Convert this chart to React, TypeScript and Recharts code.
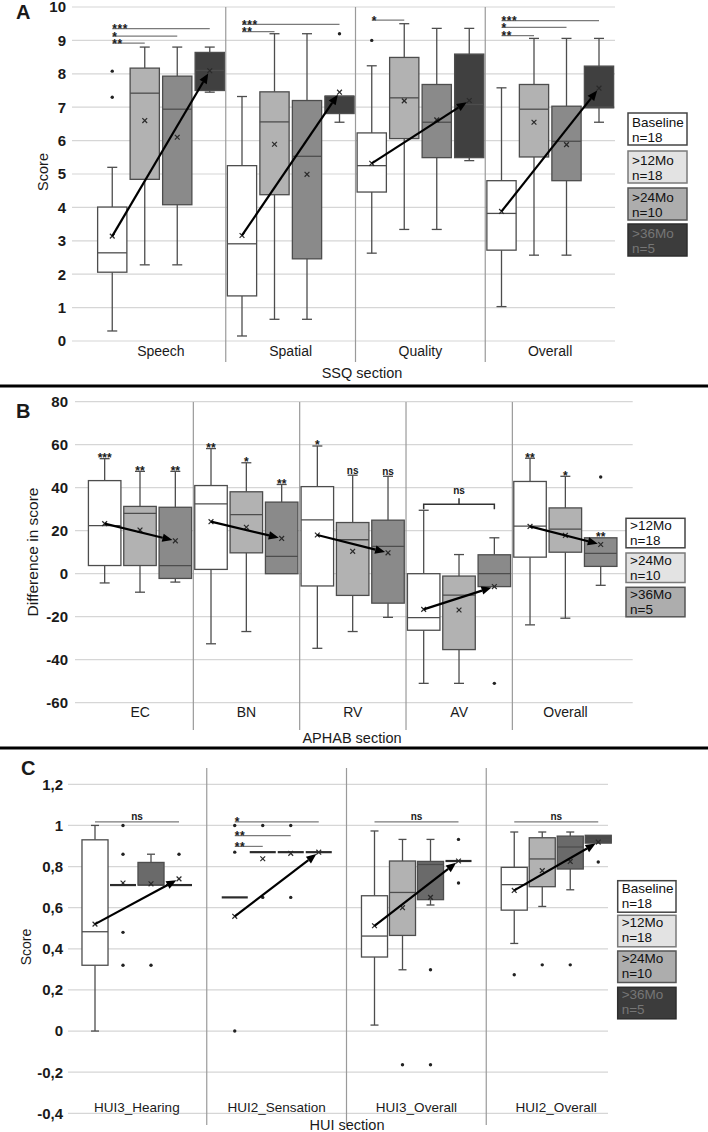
import React from "react";
import { ComposedChart, Bar, XAxis, YAxis, CartesianGrid } from "recharts";

const FONT = "'Liberation Sans', Arial, Helvetica, sans-serif";

// ---------- panel A: SSQ ----------
const SSQ_GROUPS = ["Speech", "Spatial", "Quality", "Overall"];
const SSQ_MIN = [[0.3, 2.28, 2.28, 7.45], [0.15, 0.65, 0.65, 6.55], [2.63, 3.34, 3.34, 5.4], [1.03, 2.57, 2.57, 6.55]];
const SSQ_Q1 = [[2.06, 4.84, 4.08, 7.5], [1.35, 4.38, 2.46, 6.81], [4.46, 6.06, 5.49, 5.49], [2.72, 5.51, 4.8, 6.98]];
const SSQ_MED = [[2.64, 7.42, 6.94, 8.1], [2.91, 6.56, 5.53, 7.33], [5.25, 7.28, 6.55, 7.08], [3.82, 6.94, 5.98, 7.01]];
const SSQ_Q3 = [[4.01, 8.17, 7.93, 8.64], [5.25, 7.46, 7.2, 7.33], [6.23, 8.49, 7.68, 8.59], [4.8, 7.68, 7.03, 8.23]];
const SSQ_MAX = [[5.2, 8.8, 8.8, 8.8], [7.32, 9.2, 9.2, 7.33], [8.24, 9.5, 9.36, 9.36], [7.58, 9.06, 9.06, 9.06]];
const SSQ_MEAN = [[3.14, 6.6, 6.1, 8.09], [3.16, 5.89, 4.99, 7.45], [5.32, 7.19, 6.62, 7.2], [3.88, 6.55, 5.88, 7.57]];
const SSQ_OUT = [[[8.08, 7.3], [], [], []], [[], [], [], [9.2]], [[9.0], [], [], []], [[], [], [], []]];
const SSQ_SIG = [
  [{ to: 3, y: 9.35, label: "***" }, { to: 2, y: 9.13, label: "*" }, { to: 1, y: 8.92, label: "**" }],
  [{ to: 3, y: 9.48, label: "***" }, { to: 1, y: 9.26, label: "**" }],
  [{ to: 1, y: 9.61, label: "*" }],
  [{ to: 3, y: 9.59, label: "***" }, { to: 2, y: 9.39, label: "*" }, { to: 1, y: 9.14, label: "**" }],
];
const SSQ_TICKS = [0, 1, 2, 3, 4, 5, 6, 7, 8, 9, 10];

// ---------- panel B: APHAB (difference to baseline) ----------
const APHAB_GROUPS = ["EC", "BN", "RV", "AV", "Overall"];
const APHAB_MIN = [[-4.3, -8.6, -3.9], [-32.6, -26.9, 0], [-34.7, -26.9, -20.3], [-51, -51, -6], [-23.8, -20.7, -5.4]];
const APHAB_Q1 = [[3.8, 3.8, -2.2], [2.0, 9.7, 0], [-5.7, -10.1, -13.7], [-26.3, -35.3, -6], [7.7, 10, 3.4]];
const APHAB_MED = [[22.4, 28.1, 3.8], [32.5, 27.5, 8.1], [25, 15.8, 12.7], [-20.4, -10, 0], [22.1, 20.7, 9.5]];
const APHAB_Q3 = [[43.3, 31.3, 30.9], [41, 38.1, 33.3], [40.5, 23.8, 24.9], [0, -1.1, 8.8], [42.9, 30.6, 16.7]];
const APHAB_MAX = [[53.5, 47.6, 47.6], [58.2, 51.6, 41.5], [59.4, 45.8, 45.3], [29.5, 8.9, 16.7], [53.7, 45.3, 16.7]];
const APHAB_MEAN = [[23.3, 20.3, 15.3], [24.2, 21.6, 16.4], [18, 10.4, 9.7], [-16.6, -16.9, -6], [22, 17.8, 13.6]];
const APHAB_OUT = [[[], [], []], [[], [], []], [[], [], []], [[], [], [-51]], [[], [], [45]]];
const APHAB_STARS = [["***", "**", "**"], ["**", "*", "**"], ["*", "ns", "ns"], ["", "", ""], ["**", "*", "**"]];
const APHAB_BRACKETS = [null, null, null, { from: 0, to: 2, y: 32.3, label: "ns" }, null];
const APHAB_TICKS = [-60, -40, -20, 0, 20, 40, 60, 80];

// ---------- panel C: HUI ----------
const HUI_GROUPS = ["HUI3_Hearing", "HUI2_Sensation", "HUI3_Overall", "HUI2_Overall"];
const HUI_MIN = [[0, 0.71, 0.71, 0.71], [0.65, 0.87, 0.87, 0.87], [0.029, 0.298, 0.613, 0.827], [0.426, 0.606, 0.687, 0.914]];
const HUI_Q1 = [[0.32, 0.71, 0.71, 0.71], [0.65, 0.87, 0.87, 0.87], [0.36, 0.465, 0.639, 0.827], [0.588, 0.702, 0.788, 0.914]];
const HUI_MED = [[0.483, 0.71, 0.71, 0.71], [0.65, 0.87, 0.87, 0.87], [0.462, 0.674, 0.81, 0.827], [0.712, 0.837, 0.895, 0.93]];
const HUI_Q3 = [[0.93, 0.71, 0.82, 0.71], [0.65, 0.87, 0.87, 0.87], [0.658, 0.827, 0.825, 0.827], [0.796, 0.94, 0.948, 0.952]];
const HUI_MAX = [[1.0, 0.71, 0.86, 0.71], [0.65, 0.87, 0.87, 0.87], [0.973, 0.932, 0.932, 0.827], [0.968, 0.968, 0.968, 0.952]];
const HUI_MEAN = [[0.52, 0.72, 0.716, 0.74], [0.558, 0.838, 0.864, 0.87], [0.512, 0.6, 0.65, 0.827], [0.684, 0.78, 0.825, 0.919]];
const HUI_OUT = [
  [[], [1.0, 0.86, 0.48, 0.32], [0.32], [0.86]],
  [[1.0, 0.87, 0], [1.0, 0.65], [1.0, 0.65], []],
  [[], [-0.164], [0.298, -0.164], [0.932, 0.72]],
  [[0.274], [0.322], [0.322], [0.822]],
];
const HUI_SIG = [
  [{ to: 3, y: 1.017, label: "ns" }],
  [{ to: 3, y: 1.017, label: "*" }, { to: 2, y: 0.95, label: "**" }, { to: 1, y: 0.898, label: "**" }],
  [{ to: 3, y: 1.017, label: "ns" }],
  [{ to: 3, y: 1.017, label: "ns" }],
];
const HUI_TICKS = [-0.4, -0.2, 0, 0.2, 0.4, 0.6, 0.8, 1, 1.2];

const SLOT_NAMES = ["Baseline", ">12Mo", ">24Mo", ">36Mo"];
const SLOT_N = ["n=18", "n=18", "n=10", "n=5"];

type Sig = { to: number; y: number; label: string };
type Bracket = { from: number; to: number; y: number; label: string } | null;

interface PanelCfg {
  top: number;
  height: number;
  plot: { top: number; bottom: number; left: number; right: number };
  pad: { left: number; right: number };
  groups: string[];
  min: number[][];
  q1: number[][];
  med: number[][];
  q3: number[][];
  max: number[][];
  mean: number[][];
  out: number[][][];
  domain: [number, number];
  ticks: number[];
  fmt?: (v: number) => string;
  fills: string[];
  innerFrac: number;
  boxFrac: number;
  capW: number;
  sep: [number, number];
  sig?: Sig[][];
  stars?: string[][];
  brackets?: Bracket[];
  labelOffset: number;
  catFont: number;
  yTickMargin: number;
}

const BOX_STROKE = "#4d4d4d";
const TEXT = "#1a1a1a";

function renderGroup(p: any, cfg: PanelCfg) {
  const { x, y, width, height, index } = p;
  const g = index as number;
  const [lo, hi] = cfg.domain;
  const top = Math.min(y, y + height);
  const bot = Math.max(y, y + height);
  const toY = (v: number) => top + ((hi - v) / (hi - lo)) * (bot - top);
  const n = cfg.fills.length;
  const inner = width * cfg.innerFrac;
  const start = x + (width - inner) / 2;
  const slotW = inner / n;
  const bw = slotW * cfg.boxFrac;
  const cxs = cfg.fills.map((_, i) => start + slotW * (i + 0.5));
  const cap = cfg.capW / 2;

  const boxes = cfg.fills.map((fill, i) => {
    const cx = cxs[i];
    const yMin = toY(cfg.min[g][i]);
    const yQ1 = toY(cfg.q1[g][i]);
    const yMed = toY(cfg.med[g][i]);
    const yQ3 = toY(cfg.q3[g][i]);
    const yMax = toY(cfg.max[g][i]);
    const yMean = toY(cfg.mean[g][i]);
    const flat = Math.abs(yQ1 - yQ3) < 0.5;
    return (
      <g key={i}>
        {yMax < yQ3 - 0.5 && (
          <g stroke={BOX_STROKE} strokeWidth={1.3}>
            <line x1={cx} x2={cx} y1={yMax} y2={yQ3} />
            <line x1={cx - cap} x2={cx + cap} y1={yMax} y2={yMax} />
          </g>
        )}
        {yMin > yQ1 + 0.5 && (
          <g stroke={BOX_STROKE} strokeWidth={1.3}>
            <line x1={cx} x2={cx} y1={yQ1} y2={yMin} />
            <line x1={cx - cap} x2={cx + cap} y1={yMin} y2={yMin} />
          </g>
        )}
        {flat ? (
          <line x1={cx - bw / 2} x2={cx + bw / 2} y1={yQ1} y2={yQ1} stroke="#2b2b2b" strokeWidth={2.2} />
        ) : (
          <g>
            <rect x={cx - bw / 2} y={yQ3} width={bw} height={yQ1 - yQ3} fill={fill} stroke={BOX_STROKE} strokeWidth={1.3} />
            <line x1={cx - bw / 2} x2={cx + bw / 2} y1={yMed} y2={yMed} stroke={BOX_STROKE} strokeWidth={1.3} />
          </g>
        )}
        {cfg.out[g][i].map((v, k) => (
          <circle key={k} cx={cx} cy={toY(v)} r={1.7} fill="#222" />
        ))}
        <g stroke="#2a2a2a" strokeWidth={1.2}>
          <line x1={cx - 2.4} x2={cx + 2.4} y1={yMean - 2.4} y2={yMean + 2.4} />
          <line x1={cx - 2.4} x2={cx + 2.4} y1={yMean + 2.4} y2={yMean - 2.4} />
        </g>
      </g>
    );
  });

  // arrow from the baseline mean to the last follow-up mean
  const ax0 = cxs[0];
  const ay0 = toY(cfg.mean[g][0]);
  const ax1 = cxs[n - 1];
  const ay1 = toY(cfg.mean[g][n - 1]);
  const len = Math.hypot(ax1 - ax0, ay1 - ay0);
  const ux = (ax1 - ax0) / len;
  const uy = (ay1 - ay0) / len;
  const tipX = ax1 - ux * 3;
  const tipY = ay1 - uy * 3;
  const bx = tipX - ux * 10;
  const by = tipY - uy * 10;
  const px = -uy * 4.2;
  const py = ux * 4.2;

  const sigs = (cfg.sig ? cfg.sig[g] : []).map((s, k) => {
    const yy = toY(s.y);
    const x0 = cxs[0];
    const x1 = cxs[s.to];
    return (
      <g key={k}>
        <line x1={x0} x2={x1} y1={yy} y2={yy} stroke="#7a7a7a" strokeWidth={1.2} />
        {s.label === "ns" ? (
          <text x={(x0 + x1) / 2} y={yy - 2} textAnchor="middle" fontSize={10} fontWeight={700} fill={TEXT} fontFamily={FONT}>
            ns
          </text>
        ) : (
          <text x={x0} y={yy + 4.5} fontSize={12} fontWeight={700} fill={TEXT} fontFamily={FONT} letterSpacing={0.6}>
            {s.label}
          </text>
        )}
      </g>
    );
  });

  const stars = (cfg.stars ? cfg.stars[g] : []).map((lab, i) => {
    if (!lab) return null;
    const capY = toY(cfg.max[g][i]);
    const ns = lab === "ns";
    return (
      <text key={i} x={cxs[i]} y={ns ? capY - 1 : capY + 3.5} textAnchor="middle" fontSize={ns ? 10 : 12} fontWeight={700} fill={TEXT} fontFamily={FONT}>
        {lab}
      </text>
    );
  });

  const br = cfg.brackets ? cfg.brackets[g] : null;
  let bracket = null;
  if (br) {
    const bxa = cxs[br.from];
    const bxb = cxs[br.to];
    const yy = toY(br.y);
    const mid = (bxa + bxb) / 2;
    bracket = (
      <g>
        <path d={`M${bxa},${yy + 5} V${yy} H${bxb} V${yy + 5} M${mid},${yy} V${yy - 6}`} fill="none" stroke="#333" strokeWidth={1.5} />
        <text x={mid} y={yy - 10} textAnchor="middle" fontSize={10} fontWeight={700} fill={TEXT} fontFamily={FONT}>
          {br.label}
        </text>
      </g>
    );
  }

  const sepTop = cfg.sep[0] - cfg.top;
  const sepBot = cfg.sep[1] - cfg.top;

  return (
    <g>
      {g > 0 && <line x1={x} x2={x} y1={sepTop} y2={sepBot} stroke="#9a9a9a" strokeWidth={1.2} />}
      {boxes}
      <line x1={ax0} y1={ay0} x2={bx} y2={by} stroke="#000" strokeWidth={2.2} />
      <polygon points={`${tipX},${tipY} ${bx + px},${by + py} ${bx - px},${by - py}`} fill="#000" />
      {sigs}
      {stars}
      {bracket}
    </g>
  );
}

function Panel({ cfg }: { cfg: PanelCfg }) {
  const rows = cfg.groups.map((name) => ({ name, span: cfg.domain }));
  const xAxisH = cfg.top + cfg.height - cfg.plot.bottom;
  return (
    <ComposedChart
      width={708}
      height={cfg.height}
      data={rows}
      barCategoryGap={0}
      margin={{ top: cfg.plot.top - cfg.top, right: 708 - cfg.plot.right, bottom: 0, left: 0 }}
    >
      <CartesianGrid vertical={false} stroke="#d6d6d6" strokeWidth={1.2} />
      <XAxis
        dataKey="name"
        type="category"
        interval={0}
        height={xAxisH}
        padding={cfg.pad}
        axisLine={false}
        tickLine={false}
        tickSize={0}
        tickMargin={0}
        tick={(t: any) => (
          <text x={t.x} y={t.y + cfg.labelOffset} textAnchor="middle" fontSize={cfg.catFont} fill={TEXT} fontFamily={FONT}>
            {t.payload.value}
          </text>
        )}
      />
      <YAxis
        type="number"
        domain={cfg.domain}
        ticks={cfg.ticks}
        interval={0}
        width={cfg.plot.left}
        tickFormatter={cfg.fmt}
        axisLine={false}
        tickLine={false}
        tickSize={0}
        tickMargin={cfg.yTickMargin}
        tick={{ fontSize: 15, fontWeight: 700, fill: TEXT, fontFamily: FONT }}
      />
      <Bar dataKey="span" isAnimationActive={false} shape={(p: any) => renderGroup(p, cfg)} />
    </ComposedChart>
  );
}

const PANEL_A: PanelCfg = {
  top: 0,
  height: 392,
  plot: { top: 7, bottom: 341, left: 72, right: 615 },
  pad: { left: 24, right: 0 },
  groups: SSQ_GROUPS,
  min: SSQ_MIN, q1: SSQ_Q1, med: SSQ_MED, q3: SSQ_Q3, max: SSQ_MAX, mean: SSQ_MEAN, out: SSQ_OUT,
  domain: [0, 10],
  ticks: SSQ_TICKS,
  fills: ["#ffffff", "#b2b2b2", "#8a8a8a", "#404040"],
  innerFrac: 1,
  boxFrac: 0.9,
  capW: 10,
  sep: [7, 362],
  sig: SSQ_SIG,
  labelOffset: 15,
  catFont: 14,
  yTickMargin: 6,
};

const PANEL_B: PanelCfg = {
  top: 392,
  height: 348,
  plot: { top: 401.7, bottom: 702.7, left: 75, right: 632.7 },
  pad: { left: 12, right: 14 },
  groups: APHAB_GROUPS,
  min: APHAB_MIN, q1: APHAB_Q1, med: APHAB_MED, q3: APHAB_Q3, max: APHAB_MAX, mean: APHAB_MEAN, out: APHAB_OUT,
  domain: [-60, 80],
  ticks: APHAB_TICKS,
  fills: ["#ffffff", "#b2b2b2", "#8a8a8a"],
  innerFrac: 1,
  boxFrac: 0.92,
  capW: 10,
  sep: [402, 730],
  stars: APHAB_STARS,
  brackets: APHAB_BRACKETS,
  labelOffset: 14.6,
  catFont: 14,
  yTickMargin: 7,
};

const PANEL_C: PanelCfg = {
  top: 750,
  height: 382,
  plot: { top: 784.3, bottom: 1113.3, left: 68, right: 608 },
  pad: { left: -1, right: -18 },
  groups: HUI_GROUPS,
  min: HUI_MIN, q1: HUI_Q1, med: HUI_MED, q3: HUI_Q3, max: HUI_MAX, mean: HUI_MEAN, out: HUI_OUT,
  domain: [-0.4, 1.2],
  ticks: HUI_TICKS,
  fmt: (v: number) => String(Number(v.toFixed(1))).replace(".", ","),
  fills: ["#ffffff", "#b2b2b2", "#6a6a6a", "#4a4a4a"],
  innerFrac: 0.8,
  boxFrac: 0.93,
  capW: 8,
  sep: [768, 1125],
  sig: HUI_SIG,
  labelOffset: -1.5,
  catFont: 13.5,
  yTickMargin: 5,
};

const LEG_FILL = ["#ffffff", "#e3e3e3", "#adadad", "#3c3c3c"];
const LEG_STROKE = ["#444", "#7a7a7a", "#555", "#2e2e2e"];
const LEG_TEXT = ["#111", "#111", "#111", "#767676"];

function Legend({ x, w, h, tops, slots, l1, l2 }: { x: number; w: number; h: number; tops: number[]; slots: number[]; l1: number; l2: number }) {
  return (
    <g fontFamily={FONT} fontSize={13.5}>
      {slots.map((s, k) => (
        <g key={k}>
          <rect x={x} y={tops[k]} width={w} height={h} fill={LEG_FILL[k]} stroke={LEG_STROKE[k]} strokeWidth={1.5} />
          <text x={x + 4} y={tops[k] + l1} fill={LEG_TEXT[k]}>{SLOT_NAMES[s]}</text>
          <text x={x + 4} y={tops[k] + l2} fill={LEG_TEXT[k]}>{SLOT_N[s]}</text>
        </g>
      ))}
    </g>
  );
}

export default function App() {
  return (
    <div style={{ position: "absolute", left: 0, top: 0, width: 708, height: 1132, background: "#fff", overflow: "hidden" }}>
      {[PANEL_A, PANEL_B, PANEL_C].map((cfg, i) => (
        <div key={i} style={{ position: "absolute", left: 0, top: cfg.top }}>
          <Panel cfg={cfg} />
        </div>
      ))}
      <svg width={708} height={1132} style={{ position: "absolute", left: 0, top: 0, pointerEvents: "none" }}>
        <g fontFamily={FONT} fill={TEXT}>
          <text x={16} y={19} fontSize={20} fontWeight={700}>A</text>
          <text x={16} y={418} fontSize={20} fontWeight={700}>B</text>
          <text x={21} y={775} fontSize={20} fontWeight={700}>C</text>
          <text transform="translate(43,172) rotate(-90)" textAnchor="middle" dominantBaseline="central" fontSize={14.5}>Score</text>
          <text transform="translate(32,552) rotate(-90)" textAnchor="middle" dominantBaseline="central" fontSize={15.5}>Difference in score</text>
          <text transform="translate(26,947) rotate(-90)" textAnchor="middle" dominantBaseline="central" fontSize={14}>Score</text>
          <text x={362} y={378} textAnchor="middle" fontSize={14.5}>SSQ section</text>
          <text x={352} y={743} textAnchor="middle" fontSize={14.5}>APHAB section</text>
          <text x={347} y={1130} textAnchor="middle" fontSize={14.5}>HUI section</text>
        </g>
        <line x1={0} x2={708} y1={386} y2={386} stroke="#000" strokeWidth={3} />
        <line x1={0} x2={708} y1={748} y2={748} stroke="#000" strokeWidth={3} />
        <Legend x={628} w={59} h={32} tops={[113, 151, 188, 224]} slots={[0, 1, 2, 3]} l1={14} l2={29} />
        <Legend x={626} w={59} h={29.5} tops={[518.3, 553, 587.3]} slots={[1, 2, 3]} l1={12} l2={26.5} />
        <Legend x={617.7} w={58.3} h={31.5} tops={[880.7, 915.3, 951, 987.3]} slots={[0, 1, 2, 3]} l1={12} l2={27} />
      </svg>
    </div>
  );
}
